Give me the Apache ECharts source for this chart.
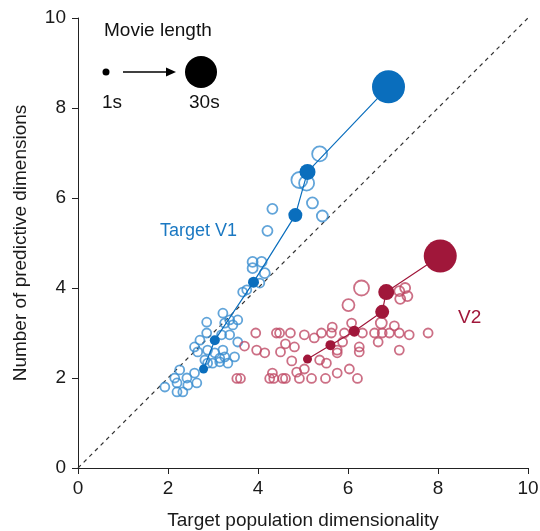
<!DOCTYPE html>
<html><head><meta charset="utf-8">
<script src="https://cdn.jsdelivr.net/npm/echarts@6/dist/echarts.min.js"></script>
<style>html,body{margin:0;padding:0;background:#fff}#c{width:540px;height:531px}</style>
</head><body><div id="c"></div>
<script>
// x, y, symbol size
const blueMeans = [[2.79,2.20,9],[3.04,2.84,10],[3.90,4.13,11],[4.83,5.62,14],[5.10,6.58,16],[6.90,8.47,33]];
const redMeans  = [[5.10,2.42,9],[5.61,2.73,10],[6.14,3.04,11],[6.76,3.47,14],[6.85,3.91,16],[8.05,4.71,33]];
const blueOpen = [
 [1.93,1.80,9],[2.15,2.00,9],[2.20,1.89,9],[2.20,1.69,9],[2.26,2.18,9],[2.33,1.69,9],[2.42,2.00,9],[2.44,1.84,9],
 [2.59,2.11,9],[2.64,1.89,9],[2.59,2.69,9],[2.66,2.58,9],[2.82,2.40,9],[2.88,2.33,9],[2.88,2.62,9],[2.99,2.33,9],
 [3.04,2.56,9],[3.15,2.44,9],[3.15,2.36,9],[3.22,2.62,9],[3.26,2.47,9],[3.33,2.33,9],[3.48,2.47,9],[3.55,2.80,9],
 [2.86,3.00,9],[2.86,3.24,9],[3.19,2.96,9],[3.37,2.96,9],[3.26,3.22,9],[3.44,3.18,9],[3.22,3.44,9],[3.37,3.29,9],
 [3.55,3.29,9],[2.71,2.84,9],[3.66,3.91,9],[3.75,3.96,9],[4.04,4.11,9],[3.88,4.58,10],[4.08,4.58,10],[3.88,4.44,10],
 [4.15,4.33,10],[4.21,5.27,10],[4.32,5.76,10],[4.92,6.40,16],[5.08,6.33,15],[5.37,6.98,15],[5.21,5.89,11],[5.43,5.60,11]
];
const redOpen = [
 [6.01,3.62,12],[6.30,4.00,15],[7.14,3.93,10],[7.27,4.00,10],[7.32,3.82,10],[7.16,3.76,10],[6.74,3.22,11],[6.08,3.22,9],
 [5.65,3.13,9],[7.03,3.16,9],
 [3.95,3.00,9],[4.41,3.00,9],[4.48,3.00,9],[4.72,3.00,9],[5.03,2.96,9],[5.25,2.89,9],[5.41,3.00,9],[5.63,3.00,9],
 [5.92,3.00,9],[6.32,3.00,9],[6.59,3.00,9],[6.76,3.00,9],[6.92,3.00,9],[7.14,3.00,9],[7.36,2.96,9],[7.78,3.00,9],
 [3.70,2.71,9],[3.97,2.62,9],[4.15,2.56,9],[4.50,2.58,9],[4.61,2.76,9],[4.81,2.69,9],[5.88,2.80,9],[5.76,2.62,9],
 [5.76,2.56,9],[6.25,2.69,9],[6.25,2.58,9],[6.67,2.80,9],[7.14,2.62,9],[4.75,2.38,9],[5.37,2.40,9],[5.52,2.33,9],
 [4.86,2.13,9],[5.03,2.20,9],[6.03,2.20,9],[5.76,2.11,9],[4.32,2.11,9],
 [3.53,1.99,9],[3.61,1.99,9],[4.26,1.99,9],[4.35,1.99,9],[4.55,1.99,9],[4.61,1.99,9],[4.92,1.99,9],[5.19,1.99,9],
 [5.50,1.99,9],[6.21,1.99,9]
];
const identityLine = [[0,0],[10,10]];
const xTicks = [0,2,4,6,8,10];
const yTicks = [0,2,4,6,8,10];

const BLUE='#0a6ebd', BLUE_O='#3a8dcf', RED='#a0173a', RED_O='#bf4b66';
const FONT='Liberation Sans, Arial';
const chart = echarts.init(document.getElementById('c'));
const axisCommon = {
  min: xTicks[0], max: xTicks[xTicks.length-1], interval: 2,
  axisLine:{show:true, onZero:false, lineStyle:{color:'#222', width:1}},
  axisTick:{show:true, length:6, lineStyle:{color:'#222'}},
  splitLine:{show:false},
  nameLocation:'middle',
  nameTextStyle:{color:'#1a1a1a', fontSize:19, fontFamily:FONT}
};
chart.setOption({
  animation:false,
  grid:{left:78, right:12, top:18, bottom:63, containLabel:false, outerBoundsMode:'none'},
  xAxis:Object.assign({}, axisCommon, {type:'value', name:'Target population dimensionality', nameGap:43,
    axisLabel:{color:'#1a1a1a', fontSize:19, fontFamily:FONT, margin:11}}),
  yAxis:Object.assign({}, axisCommon, {type:'value', min:yTicks[0], max:yTicks[yTicks.length-1], name:'Number of predictive dimensions', nameGap:48,
    axisLabel:{color:'#1a1a1a', fontSize:19, fontFamily:FONT, margin:12}}),
  series:[
    {type:'line', data:identityLine, symbol:'none', lineStyle:{color:'#333', width:1.2, type:[4,4]}, z:1},
    {type:'scatter', data:blueOpen, symbol:'circle', symbolSize:v=>v[2], itemStyle:{color:'rgba(0,0,0,0)', borderColor:BLUE_O, borderWidth:1.8}, z:2},
    {type:'scatter', data:redOpen, symbol:'circle', symbolSize:v=>v[2], itemStyle:{color:'rgba(0,0,0,0)', borderColor:RED_O, borderWidth:1.8}, z:2},
    {type:'line', data:blueMeans, symbol:'circle', showSymbol:true, symbolSize:v=>v[2], itemStyle:{color:BLUE, borderWidth:0}, lineStyle:{color:BLUE, width:1.2}, z:3},
    {type:'line', data:redMeans, symbol:'circle', showSymbol:true, symbolSize:v=>v[2], itemStyle:{color:RED, borderWidth:0}, lineStyle:{color:RED, width:1.2}, z:3}
  ],
  graphic:[
    {type:'text', left:104, top:21, style:{text:'Movie length', fontSize:19, fill:'#111', fontFamily:FONT}},
    {type:'circle', shape:{cx:106, cy:72, r:3.5}, style:{fill:'#000'}},
    {type:'line', shape:{x1:123, y1:72, x2:168, y2:72}, style:{stroke:'#000', lineWidth:1.5}},
    {type:'polygon', shape:{points:[[166,67.5],[176,72],[166,76.5]]}, style:{fill:'#000'}},
    {type:'circle', shape:{cx:201, cy:72, r:16}, style:{fill:'#000'}},
    {type:'text', left:102, top:93, style:{text:'1s', fontSize:19, fill:'#111', fontFamily:FONT}},
    {type:'text', left:189, top:93, style:{text:'30s', fontSize:19, fill:'#111', fontFamily:FONT}},
    {type:'text', left:160, top:222, style:{text:'Target V1', fontSize:18, fill:'#1a78c2', fontFamily:FONT}},
    {type:'text', left:458, top:308, style:{text:'V2', fontSize:19, fill:RED, fontFamily:FONT}}
  ]
});
</script></body></html>
